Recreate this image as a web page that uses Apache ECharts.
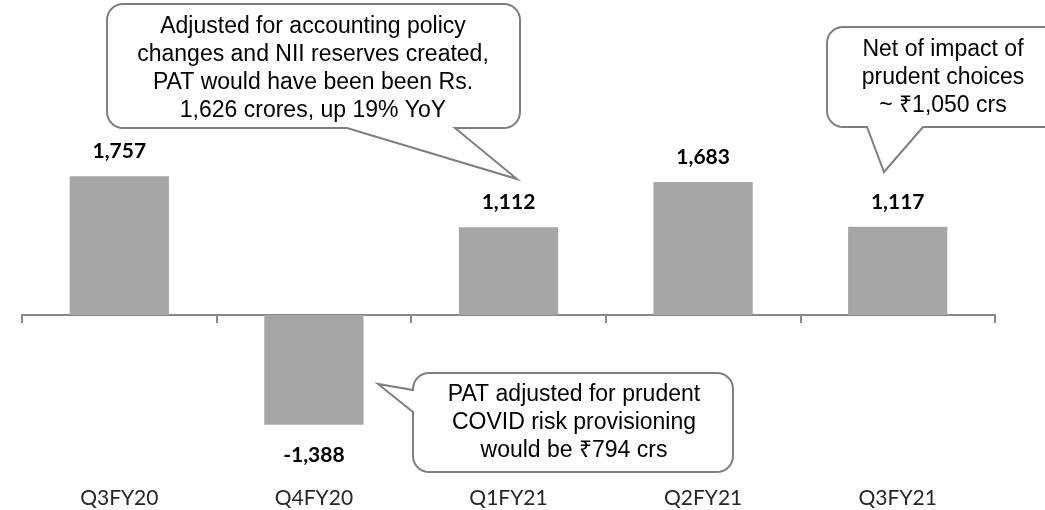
<!DOCTYPE html>
<html>
<head>
<meta charset="utf-8">
<script src="https://cdn.jsdelivr.net/npm/echarts@6/dist/echarts.min.js"></script>
<style>
  html, body { margin: 0; padding: 0; background: #fff; }
  #chartPanel { width: 1045px; height: 510px; }
</style>
</head>
<body>
<div id="chartPanel"></div>
<script>
// quarters and PAT (Rs. crores)
var categories = ['Q3FY20', 'Q4FY20', 'Q1FY21', 'Q2FY21', 'Q3FY21'];
var patValues = [1757, -1388, 1112, 1683, 1117];

// callout texts
var noteTop = 'Adjusted for accounting policy\nchanges and NII reserves created,\nPAT would have been been Rs.\n1,626 crores, up 19% YoY';
var noteBottom = 'PAT adjusted for prudent\nCOVID risk provisioning\nwould be \u20B9794 crs';
var noteRight = 'Net of impact of\nprudent choices\n~ \u20B91,050 crs';

// quarter circle points around a corner centre
function arcPts(cx, cy, r, a0, a1) {
  var out = [];
  for (var i = 0; i <= 8; i++) {
    var a = a0 + (a1 - a0) * i / 8;
    out.push([cx + r * Math.cos(a), cy + r * Math.sin(a)]);
  }
  return out;
}

// rounded box with a pointer, side = 'bottom' or 'left'
function calloutPoints(x, y, w, h, r, side, a, b, tip) {
  var P = Math.PI, pts = [];
  pts = pts.concat(arcPts(x + r, y + r, r, P, 1.5 * P));             // top-left
  pts = pts.concat(arcPts(x + w - r, y + r, r, 1.5 * P, 2 * P));     // top-right
  pts = pts.concat(arcPts(x + w - r, y + h - r, r, 0, 0.5 * P));     // bottom-right
  if (side === 'bottom') {
    pts.push([b, y + h], tip, [a, y + h]);
  }
  pts = pts.concat(arcPts(x + r, y + h - r, r, 0.5 * P, P));         // bottom-left
  if (side === 'left') {
    pts.push([x, b], tip, [x, a]);
  }
  return pts;
}

function callout(points, text, cx, cy) {
  return [
    {
      type: 'polygon',
      z: 100,
      shape: { points: points },
      style: { fill: '#ffffff', stroke: '#7f7f7f', lineWidth: 2 }
    },
    {
      type: 'text',
      z: 101,
      x: cx,
      y: cy,
      style: {
        text: text,
        font: '23px "Liberation Sans", Arial, sans-serif',
        fill: '#000000',
        textAlign: 'center',
        textVerticalAlign: 'middle',
        lineHeight: 28
      }
    }
  ];
}

var chartPanel = echarts.init(document.getElementById('chartPanel'));

var barData = patValues.map(function (v) {
  return {
    value: v,
    label: { position: v < 0 ? 'bottom' : 'top', distance: v < 0 ? 20 : 14 }
  };
});

var graphics = []
  .concat(callout(calloutPoints(107, 4, 413, 124, 16, 'bottom', 347, 455, [517, 179]), noteTop, 313, 69))
  .concat(callout(calloutPoints(413, 373, 320, 99, 16, 'left', 390, 412, [378, 384]), noteBottom, 574, 423))
  .concat(callout(calloutPoints(827, 27, 240, 100, 16, 'bottom', 867, 923, [884, 172]), noteRight, 943, 78));

var option = {
  animation: false,
  grid: { left: 22, right: 50, top: 157, bottom: 37 },
  xAxis: [
    {
      type: 'category',
      data: categories,
      position: 'top',
      axisLine: { onZero: true, lineStyle: { color: '#888888', width: 2 } },
      axisTick: { show: true, inside: true, length: 8, lineStyle: { color: '#888888', width: 2 } },
      axisLabel: { show: false },
      splitLine: { show: false }
    },
    {
      type: 'category',
      data: categories,
      position: 'bottom',
      axisLine: { show: false, onZero: false },
      axisTick: { show: false },
      axisLabel: {
        margin: 15,
        color: '#262626',
        fontFamily: 'Lato, "Open Sans", sans-serif',
        fontSize: 21
      }
    }
  ],
  yAxis: {
    type: 'value',
    min: -2000,
    max: 2000,
    show: false,
    splitLine: { show: false }
  },
  series: [
    {
      name: 'PAT',
      type: 'bar',
      xAxisIndex: 0,
      barWidth: '51%',
      itemStyle: { color: '#a6a6a6' },
      label: {
        show: true,
        color: '#000000',
        fontFamily: 'Lato, "Open Sans", sans-serif',
        fontWeight: 'bold',
        fontSize: 21,
        formatter: function (p) {
          return p.value.toLocaleString('en-US');
        }
      },
      data: barData
    }
  ],
  graphic: graphics
};

chartPanel.setOption(option);
</script>
</body>
</html>
